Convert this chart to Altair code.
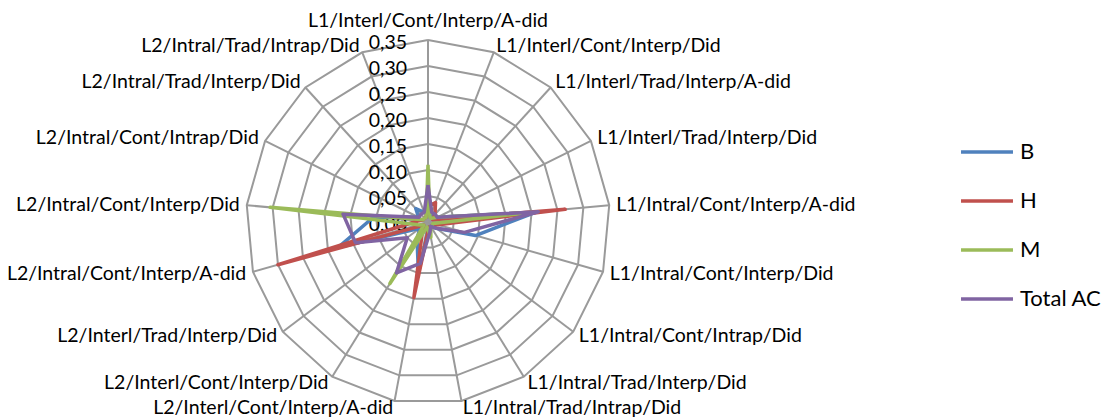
import altair as alt
import pandas as pd

categories = [
    "L1/Interl/Cont/Interp/A-did",
    "L1/Interl/Cont/Interp/Did",
    "L1/Interl/Trad/Interp/A-did",
    "L1/Interl/Trad/Interp/Did",
    "L1/Intral/Cont/Interp/A-did",
    "L1/Intral/Cont/Interp/Did",
    "L1/Intral/Cont/Intrap/Did",
    "L1/Intral/Trad/Interp/Did",
    "L1/Intral/Trad/Intrap/Did",
    "L2/Interl/Cont/Interp/A-did",
    "L2/Interl/Cont/Interp/Did",
    "L2/Interl/Trad/Interp/Did",
    "L2/Intral/Cont/Interp/A-did",
    "L2/Intral/Cont/Interp/Did",
    "L2/Intral/Cont/Intrap/Did",
    "L2/Intral/Trad/Interp/Did",
    "L2/Intral/Trad/Intrap/Did",
]
series_names = ["B", "H", "M", "Total AC"]
b_values = [0.02, 0.01, 0.02, 0.02, 0.21, 0.095, 0.02, 0.01, 0.01, 0.10, 0.04, 0.02, 0.18, 0.105, 0.02, 0.035, 0.02]
h_values = [0.03, 0.04, 0.02, 0.01, 0.265, 0.02, 0.01, 0.01, 0.01, 0.148, 0.02, 0.01, 0.30, 0.02, 0.01, 0.01, 0.01]
m_values = [0.11, 0.01, 0.01, 0.02, 0.20, 0.01, 0.01, 0.01, 0.03, 0.01, 0.139, 0.01, 0.02, 0.305, 0.01, 0.01, 0.01]
total_values = [0.071, 0.02, 0.02, 0.02, 0.213, 0.073, 0.02, 0.01, 0.02, 0.081, 0.115, 0.05, 0.145, 0.164, 0.02, 0.02, 0.02]
ring_levels = [0.05, 0.10, 0.15, 0.20, 0.25, 0.30, 0.35]
tick_values = [0.00, 0.05, 0.10, 0.15, 0.20, 0.25, 0.30, 0.35]
tick_labels = ["0,00", "0,05", "0,10", "0,15", "0,20", "0,25", "0,30", "0,35"]
colors = ["#4F81BD", "#C0504D", "#9BBB59", "#8064A2"]

N = len(categories)
RMAX = 0.35
FONT = "Lato"
FS = 19.5

# layout: plot area equals page minus margin; center and scale chosen so the outer ring has radius 182px
W, H = 1093, 411
CX, CY, PX_PER_UNIT = 420, 214, 520.0
xdom = [-CX / PX_PER_UNIT, (W - CX) / PX_PER_UNIT]
ydom = [-(H - CY) / PX_PER_UNIT, CY / PX_PER_UNIT]

angle_expr = f"datum.idx * 2 * PI / {N}"

# series table (closed polygons)
rows = []
for name, vals in zip(series_names, [b_values, h_values, m_values, total_values]):
    for i in range(N + 1):
        rows.append({"series": name, "idx": i, "value": vals[i % N]})
series_df = pd.DataFrame(rows)

ring_rows = []
for lv in ring_levels:
    for i in range(N + 1):
        ring_rows.append({"level": lv, "idx": i, "value": lv})
ring_df = pd.DataFrame(ring_rows)

spoke_df = pd.DataFrame({"idx": list(range(N)), "value": [RMAX] * N})
cat_df = pd.DataFrame({"idx": list(range(N)), "cat": categories})
tick_df = pd.DataFrame({"v": tick_values, "label": tick_labels})

xs = alt.Scale(domain=xdom, nice=False, zero=False)
ys = alt.Scale(domain=ydom, nice=False, zero=False)


def polar(chart):
    return chart.transform_calculate(
        ang=angle_expr,
        px="datum.value * sin(datum.ang)",
        py="datum.value * cos(datum.ang)",
    )


rings = polar(alt.Chart(ring_df)).mark_line(color="#9A9A9A", strokeWidth=2).encode(
    x=alt.X("px:Q", scale=xs, axis=None),
    y=alt.Y("py:Q", scale=ys, axis=None),
    detail="level:N",
    order="idx:Q",
)

spokes = polar(alt.Chart(spoke_df)).transform_calculate(zero="0").mark_rule(
    color="#9A9A9A", strokeWidth=2
).encode(
    x=alt.X("zero:Q", scale=xs, axis=None),
    y=alt.Y("zero:Q", scale=ys, axis=None),
    x2="px:Q",
    y2="py:Q",
)

ticks = alt.Chart(tick_df).transform_calculate(zero="0").mark_text(
    align="right", baseline="middle", dx=-21, dy=3, font=FONT, fontSize=FS, color="#000000"
).encode(
    x=alt.X("zero:Q", scale=xs, axis=None),
    y=alt.Y("v:Q", scale=ys, axis=None),
    text="label:N",
)

LABEL_R = RMAX + 7 / PX_PER_UNIT


def cat_layer(filter_expr, align, r, dy=0):
    return (
        alt.Chart(cat_df)
        .transform_filter(filter_expr)
        .transform_calculate(
            ang=angle_expr,
            px=f"{r} * sin(datum.ang)",
            py=f"{r} * cos(datum.ang)",
        )
        .mark_text(align=align, baseline="middle", dy=dy, font=FONT, fontSize=FS, color="#000000")
        .encode(
            x=alt.X("px:Q", scale=xs, axis=None),
            y=alt.Y("py:Q", scale=ys, axis=None),
            text="cat:N",
        )
    )


cat_top = cat_layer("datum.idx == 0", "center", RMAX, dy=-19)
cat_right = cat_layer(f"datum.idx > 0 && datum.idx <= {N // 2}", "left", LABEL_R)
cat_left = cat_layer(f"datum.idx > {N // 2}", "right", LABEL_R)

lines = polar(alt.Chart(series_df)).mark_line(strokeWidth=3.5, strokeJoin="round").encode(
    x=alt.X("px:Q", scale=xs, axis=None),
    y=alt.Y("py:Q", scale=ys, axis=None),
    color=alt.Color(
        "series:N",
        scale=alt.Scale(domain=series_names, range=colors),
        legend=alt.Legend(
            title=None,
            orient="none",
            legendX=951,
            legendY=116,
            symbolType="stroke",
            symbolSize=2700,
            symbolStrokeWidth=3.5,
            labelFont=FONT,
            labelFontSize=22,
            labelColor="#000000",
            labelOffset=5,
            rowPadding=10,
            padding=0,
        ),
    ),
    order="idx:Q",
)

chart = (
    alt.layer(rings, spokes, ticks, cat_top, cat_right, cat_left, lines)
    .properties(width=W, height=H, autosize=alt.AutoSizeParams(type="none"), padding=0)
    .configure_view(stroke=None)
)

chart.save("out.html", embed_options={"renderer": "svg", "actions": False})
